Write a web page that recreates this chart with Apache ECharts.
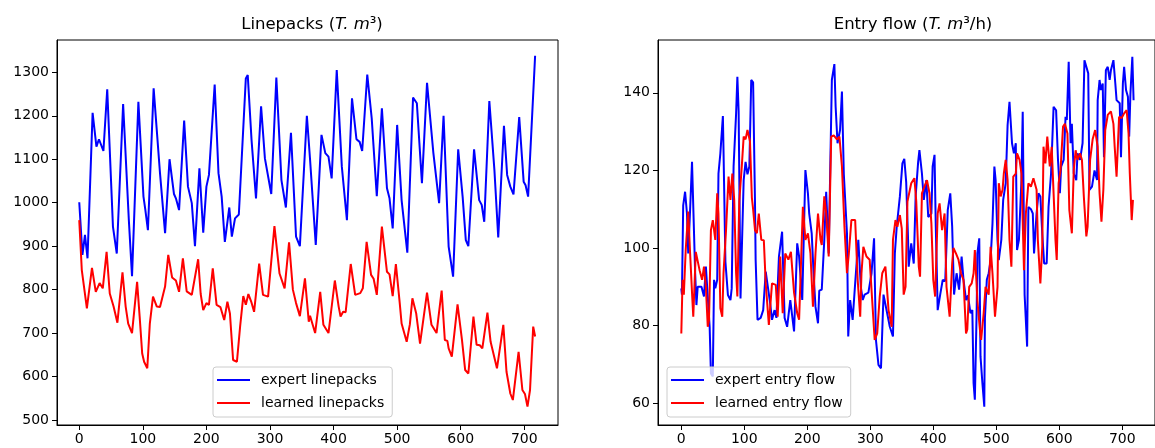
<!DOCTYPE html>
<html>
<head>
<meta charset="utf-8">
<title>Linepacks and entry flow</title>
<script src="https://cdn.jsdelivr.net/npm/echarts@6/dist/echarts.min.js"></script>
<style>
  html, body { margin: 0; padding: 0; background: #fff; }
  #chart { width: 1155px; height: 448px; }
</style>
</head>
<body>
<div id="chart"></div>
<script>
  'use strict';

  // tick labels
  const xTicks = [0, 100, 200, 300, 400, 500, 600, 700];
  const linepackTicks = [500, 600, 700, 800, 900, 1000, 1100, 1200, 1300];
  const flowTicks = [60, 80, 100, 120, 140];

  // [hour, value]
  const expertLinepacks = [
    [0, 1001], [5, 880], [9, 926], [13, 872], [21, 1207], [27, 1129], [31, 1146], [38, 1119],
    [44, 1261], [53, 945], [59, 883], [69, 1227], [78, 960], [83, 831], [93, 1232], [101, 1014],
    [104, 983], [108, 937], [117, 1263], [127, 1068], [135, 930], [142, 1100], [149, 1020],
    [152, 1010], [157, 983], [165, 1189], [171, 1037], [177, 999], [182, 900], [189, 1079],
    [195, 931], [200, 1037], [204, 1064], [213, 1272], [219, 1068], [224, 1014], [229, 910],
    [236, 989], [240, 922], [245, 964], [251, 973], [262, 1286], [265, 1294], [271, 1144],
    [278, 1010], [286, 1222], [292, 1102], [302, 1020], [310, 1288], [318, 1052], [325, 989],
    [333, 1161], [341, 922], [347, 900], [358, 1200], [363, 1100], [372, 903], [381, 1156],
    [387, 1114], [392, 1106], [397, 1056], [405, 1305], [413, 1083], [421, 960], [429, 1240],
    [436, 1146], [441, 1140], [445, 1119], [453, 1295], [460, 1194], [468, 1015], [476, 1217],
    [484, 1033], [488, 1010], [493, 941], [500, 1179], [507, 1006], [516, 885], [525, 1242],
    [531, 1229], [539, 1045], [547, 1276], [557, 1114], [566, 999], [573, 1200], [581, 899],
    [588, 830], [596, 1123], [603, 1014], [608, 914], [612, 900], [621, 1123], [629, 1006],
    [633, 995], [637, 956], [645, 1234], [653, 1075], [659, 920], [668, 1177], [673, 1064],
    [678, 1037], [683, 1019], [692, 1197], [699, 1048], [702, 1040], [706, 1014], [717, 1338]
  ];

  const learnedLinepacks = [
    [0, 960], [4, 845], [12, 757], [20, 850], [26, 795], [32, 815], [37, 803], [43, 887],
    [48, 791], [54, 761], [60, 724], [68, 840], [73, 761], [77, 722], [83, 700], [91, 818],
    [95, 738], [99, 653], [102, 634], [107, 619], [111, 722], [116, 784], [122, 761], [127, 760],
    [135, 807], [140, 880], [146, 828], [152, 821], [157, 795], [163, 872], [169, 796],
    [172, 799], [177, 788], [187, 870], [191, 790], [195, 753], [200, 769], [204, 765],
    [210, 849], [216, 765], [222, 760], [228, 730], [233, 772], [237, 745], [242, 638],
    [248, 634], [253, 715], [258, 785], [262, 765], [266, 790], [271, 770], [275, 749],
    [283, 860], [289, 788], [297, 784], [307, 946], [315, 837], [323, 803], [330, 909],
    [336, 800], [341, 769], [347, 739], [355, 826], [361, 726], [363, 740], [371, 700],
    [379, 795], [384, 719], [392, 700], [402, 821], [408, 761], [411, 738], [415, 749],
    [419, 748], [427, 859], [434, 788], [442, 792], [446, 803], [452, 910], [459, 834],
    [463, 825], [468, 788], [476, 945], [484, 841], [488, 835], [493, 785], [498, 859],
    [504, 770], [507, 722], [515, 680], [520, 720], [524, 780], [530, 745], [536, 676],
    [547, 793], [554, 719], [562, 700], [570, 798], [575, 684], [579, 682], [581, 665],
    [586, 646], [595, 766], [602, 684], [607, 615], [612, 607], [620, 738], [625, 673],
    [630, 672], [634, 665], [642, 747], [647, 680], [657, 619], [660, 620], [667, 719],
    [672, 611], [678, 561], [682, 546], [691, 657], [697, 569], [701, 560], [705, 531],
    [709, 569], [714, 715], [717, 692]
  ];

  const expertEntryFlow = [
    [0, 89.6], [1, 88], [3, 111], [6, 114.5], [9, 108.9], [11, 98.6], [14, 110], [17, 122.2],
    [20, 122], [22, 93.5], [24, 85.3], [26, 90], [32, 90], [36, 87.5], [39, 95.2], [42, 95.5],
    [45, 79.7], [47, 67.7], [50, 66.9], [52, 91.8], [54, 89.6], [57, 91.8], [59, 119.2],
    [62, 124.4], [66, 134], [67, 125.2], [70, 96.5], [74, 87.9], [78, 86.6], [80, 89.6],
    [83, 121], [87, 134.7], [89, 144.1], [91, 135.3], [94, 87], [99, 117.5], [102, 122.2],
    [105, 119], [108, 121], [111, 143.3], [114, 142.7], [117, 111.5], [118, 97], [121, 81.5],
    [126, 82], [130, 84], [134, 93.9], [137, 93.5], [141, 85.8], [144, 81.5], [148, 84],
    [151, 82], [155, 97.8], [160, 104.2], [164, 82], [168, 79.7], [173, 86.6], [179, 78.5],
    [184, 101.2], [187, 97.8], [192, 86.6], [197, 120.1], [201, 114.1], [203, 108.9],
    [207, 103.8], [210, 93.5], [213, 84.9], [217, 80.6], [219, 89], [223, 89.3], [227, 102.1],
    [230, 114.5], [234, 98.6], [239, 143.3], [243, 147.4], [245, 136.4], [248, 127],
    [252, 130.4], [255, 140.3], [258, 119], [263, 103.8], [265, 77.2], [268, 86.6], [272, 81.5],
    [276, 90.9], [281, 102.1], [285, 90], [288, 86.6], [291, 88], [297, 88.5], [302, 93.5],
    [306, 102.5], [309, 76.3], [313, 69.9], [317, 69], [321, 88], [324, 87.8], [331, 79.7],
    [336, 77.2], [339, 98.6], [342, 105.5], [347, 113.3], [351, 121.8], [354, 123], [357, 117],
    [360, 102.1], [361, 95.2], [365, 101.2], [369, 96], [372, 113.3], [376, 122.2], [378, 125.2],
    [382, 119.2], [385, 112.4], [389, 117.5], [392, 108], [397, 108.9], [399, 121], [402, 124],
    [404, 105.5], [407, 84], [411, 88], [415, 91.8], [419, 91.5], [423, 109.8], [427, 114.1],
    [430, 105.5], [433, 88], [437, 93.5], [441, 89.3], [445, 97.8], [448, 91.8], [452, 86.6],
    [455, 87.8], [459, 83.2], [462, 84], [464, 65.2], [466, 60.9], [469, 84.9], [470, 98.6],
    [473, 102.5], [475, 72], [478, 65.2], [481, 59.1], [482, 82], [485, 91.8], [488, 93.5],
    [491, 96.9], [494, 106.3], [497, 121], [499, 117.5], [502, 102.1], [504, 96.9], [508, 102.1],
    [511, 112.4], [515, 116.7], [518, 131.7], [521, 137.7], [525, 127], [528, 124.4], [531, 127],
    [533, 99.5], [536, 102.1], [540, 117.5], [542, 135.1], [545, 88], [549, 74.6], [551, 110.6],
    [555, 110], [558, 108.9], [560, 98.6], [564, 108.9], [567, 114.1], [570, 113.3], [573, 103.8],
    [576, 96], [580, 96], [583, 110.6], [587, 119.2], [591, 136.4], [595, 135.5], [598, 122.7],
    [601, 114.1], [603, 121], [607, 122.7], [610, 133.8], [612, 133], [615, 148], [618, 127],
    [620, 132], [623, 119.2], [627, 117.5], [629, 124.4], [633, 122.7], [637, 127], [640, 148.4],
    [643, 146.7], [646, 145], [648, 115], [652, 115.8], [656, 120], [660, 117.5], [661, 138.1],
    [664, 143.3], [666, 140.7], [669, 142.4], [671, 123.4], [674, 145.8], [677, 146.7],
    [680, 143.3], [682, 145.8], [686, 148.4], [689, 142.4], [691, 138.1], [696, 137.3],
    [698, 123.4], [701, 142.4], [703, 146.7], [706, 140.7], [709, 139], [711, 128.7],
    [713, 139.8], [716, 149.3], [718, 138.1]
  ];

  const learnedEntryFlow = [
    [0, 78], [2, 91.8], [4, 88], [7, 99.5], [11, 109.4], [14, 98.6], [17, 88.5], [19, 82.3],
    [23, 99], [25, 98.6], [29, 94.3], [33, 91.8], [36, 95.2], [39, 90], [42, 79.7], [44, 81.5],
    [47, 104.6], [50, 107.2], [54, 102.1], [57, 114.1], [59, 108.9], [62, 84.5], [65, 82.3],
    [67, 93.5], [71, 104.6], [75, 118.4], [78, 112.4], [81, 119.2], [84, 112.4], [87, 93.5],
    [89, 87.5], [92, 112], [96, 121], [99, 128.7], [102, 128], [105, 130.4], [109, 127.5],
    [112, 113], [114, 110], [117, 104.6], [120, 103.8], [123, 108.9], [127, 102.1], [131, 102],
    [134, 90.9], [139, 80.2], [144, 90.9], [150, 90.5], [153, 82.3], [157, 97.8], [161, 83.2],
    [165, 98.6], [170, 97], [174, 99], [179, 88.5], [184, 83.2], [187, 81.5], [193, 110.6],
    [197, 102.1], [201, 103.8], [205, 98.6], [209, 84.9], [213, 98.6], [217, 108.9],
    [221, 102.1], [223, 100.8], [227, 113.3], [230, 108.9], [234, 97.8], [238, 128.7],
    [242, 129], [247, 128], [251, 128.7], [255, 121], [259, 105.5], [263, 93.5], [266, 98.6],
    [270, 107.2], [276, 107.2], [280, 91.8], [284, 82.3], [286, 93.5], [289, 100.3], [294, 97.8],
    [299, 97], [303, 86.6], [307, 76.3], [311, 78], [315, 87.5], [319, 93.5], [324, 95.2],
    [329, 84], [334, 79.7], [336, 102.1], [340, 107.2], [343, 105.5], [347, 108.5], [350, 105],
    [353, 88], [356, 90], [359, 112], [362, 112.4], [365, 116.7], [370, 118], [373, 112],
    [377, 95.2], [379, 92.6], [382, 114.1], [386, 115.8], [390, 117.5], [394, 114.1],
    [397, 106.3], [400, 91.8], [403, 87.5], [407, 108.9], [410, 111.5], [414, 104.6],
    [418, 108.9], [421, 90], [426, 82.3], [430, 96], [432, 100], [436, 98.6], [440, 97],
    [444, 93.5], [448, 91.8], [452, 78], [454, 79], [457, 90], [461, 90.9], [464, 93.5],
    [466, 99.5], [470, 86.6], [474, 79], [476, 76.3], [480, 83.2], [483, 90], [488, 88],
    [491, 100.3], [494, 93.5], [498, 82.3], [502, 90], [504, 116.7], [507, 113.3], [510, 115],
    [512, 119.2], [515, 122.7], [518, 117.5], [521, 102.1], [524, 95.2], [527, 118.4],
    [531, 119.2], [533, 124.4], [537, 122.7], [540, 119.2], [544, 94.3], [547, 108.9],
    [551, 116.7], [555, 115.8], [559, 118], [564, 115], [566, 102.1], [570, 90.9], [573, 100.3],
    [575, 126.1], [578, 121.8], [581, 128.7], [585, 121], [588, 126.1], [591, 114.1],
    [594, 102.1], [596, 96.9], [599, 116.7], [602, 120], [606, 131.3], [609, 132], [613, 129.5],
    [616, 109.8], [620, 103.8], [623, 120], [626, 125.2], [629, 122.7], [633, 124.4],
    [636, 122.7], [639, 113.3], [643, 103], [645, 105.5], [649, 122.7], [653, 128], [657, 130.4],
    [661, 126.1], [664, 114.1], [667, 106.8], [670, 115], [673, 130.4], [677, 134.3],
    [682, 135.2], [686, 132], [688, 126.1], [691, 118.4], [695, 133.8], [699, 133.5],
    [703, 134.7], [707, 135.5], [710, 129.5], [712, 119.2], [715, 107.2], [717, 112.4]
  ];

  const FONT = 'DejaVu Sans';
  const BLUE = '#0000ff';
  const RED = '#ff0000';

  const titleRich = {
    a: { fontFamily: FONT, fontSize: 16.5, color: '#000', fontWeight: 'normal' },
    i: { fontFamily: FONT, fontSize: 16.5, color: '#000', fontWeight: 'normal', fontStyle: 'italic' }
  };

  function makeGrid(left) {
    return {
      left: left, top: 40, width: 501, height: 385,
      show: true, borderColor: '#000', borderWidth: 1, backgroundColor: 'transparent'
    };
  }

  function makeAxis(idx, min, max, ticks, margin) {
    return {
      gridIndex: idx,
      type: 'value',
      min: min,
      max: max,
      splitLine: { show: false },
      axisLine: { show: true, onZero: false, lineStyle: { color: '#000', width: 1 } },
      axisTick: { show: true, length: 5, lineStyle: { color: '#000', width: 1 }, customValues: ticks },
      axisLabel: {
        customValues: ticks,
        formatter: (v) => String(v),
        color: '#000',
        fontFamily: FONT,
        fontSize: 14,
        margin: margin
      }
    };
  }

  function makeLegend(names, left) {
    return {
      data: names,
      orient: 'vertical',
      left: left,
      top: 367,
      padding: [5, 8, 6, 4],
      itemWidth: 33,
      itemHeight: 2,
      itemGap: 7,
      icon: 'rect',
      backgroundColor: 'rgba(255,255,255,0.8)',
      borderColor: '#cccccc',
      borderWidth: 1,
      borderRadius: 3,
      textStyle: { fontFamily: FONT, fontSize: 14, color: '#000', lineHeight: 16, padding: [0, 0, 0, 6] }
    };
  }

  function makeLine(name, data, idx, color) {
    return {
      name: name,
      type: 'line',
      xAxisIndex: idx,
      yAxisIndex: idx,
      data: data,
      showSymbol: false,
      symbol: 'none',
      lineStyle: { color: color, width: 2 },
      itemStyle: { color: color },
      emphasis: { disabled: true }
    };
  }

  const chart = echarts.init(document.getElementById('chart'), null, { renderer: 'canvas' });

  chart.setOption({
    animation: false,
    backgroundColor: '#fff',
    title: [
      {
        text: '{a|Linepacks (}{i|T. m}{a|³)}',
        left: 307, top: 11, textAlign: 'center',
        textStyle: { fontWeight: 'normal', rich: titleRich }
      },
      {
        text: '{a|Entry flow (}{i|T. m}{a|³/h)}',
        left: 908, top: 11, textAlign: 'center',
        textStyle: { fontWeight: 'normal', rich: titleRich }
      }
    ],
    grid: [makeGrid(57), makeGrid(658)],
    xAxis: [
      makeAxis(0, -35, 753, xTicks, 7),
      makeAxis(1, -37, 752, xTicks, 7)
    ],
    yAxis: [
      makeAxis(0, 488.5, 1374.4, linepackTicks, 8),
      makeAxis(1, 54.4, 153.6, flowTicks, 8)
    ],
    legend: [
      makeLegend(['expert linepacks', 'learned linepacks'], 213),
      makeLegend(['expert entry flow', 'learned entry flow'], 667)
    ],
    series: [
      makeLine('expert linepacks', expertLinepacks, 0, BLUE),
      makeLine('learned linepacks', learnedLinepacks, 0, RED),
      makeLine('expert entry flow', expertEntryFlow, 1, BLUE),
      makeLine('learned entry flow', learnedEntryFlow, 1, RED)
    ]
  });
</script>
</body>
</html>
